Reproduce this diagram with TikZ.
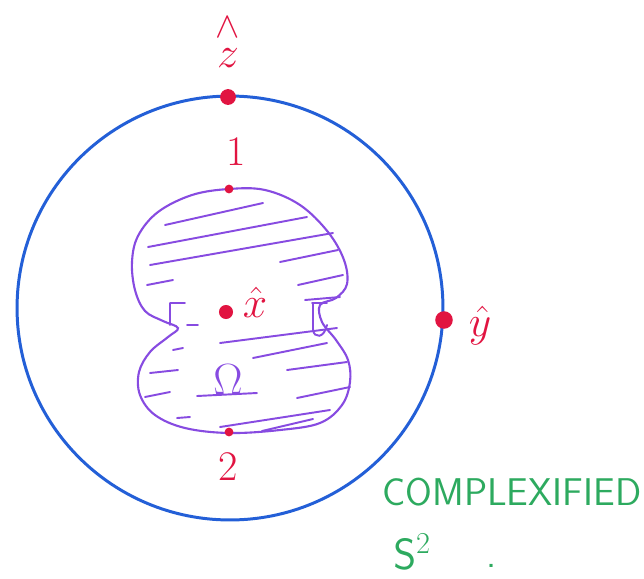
\documentclass[tikz,border=0pt]{standalone}
\usepackage{amsmath}
\usepackage{amssymb}
\usepackage{tikz}
\usepackage{xcolor}

\definecolor{sphblue}{RGB}{35,95,215}
\definecolor{ptred}{RGB}{225,20,65}
\definecolor{blobviolet}{RGB}{135,75,225}
\definecolor{notegreen}{RGB}{45,170,95}

\tikzset{
  dot/.style={circle,fill=ptred,inner sep=0pt,minimum size=#1},
  dot/.default=8pt,
  lbl/.style={text=ptred,inner sep=0pt,font=\fontsize{24}{28}\selectfont},
  hatch/.style={blobviolet,line width=1.1pt,line cap=round},
  note/.style={text=notegreen,inner sep=0pt,font=\sffamily\fontsize{22}{26}\selectfont},
}

\begin{document}
\begin{tikzpicture}[x=0.02cm,y=-0.02cm]
  \useasboundingbox (0,0) rectangle (644,578);
  % the sphere
  \draw[sphblue,line width=1.7pt] (230,308) ellipse [x radius=4.26cm,y radius=4.24cm];
  % the region Omega
  \draw[blobviolet,line width=1.2pt] plot[smooth cycle,tension=0.6] coordinates {
    (229,189) (265,190) (300,205) (328,232) (344,260) (347,284) (336,298)
    (320,305) (322,322) (336,340) (348,360) (350,382) (342,405) (320,423)
    (280,430) (229,433) (185,428) (155,415) (140,395) (139,372) (150,352)
    (168,337) (178,328) (163,321) (145,311) (135,290) (132,262) (138,236)
    (158,212) (192,195)};
  \foreach \xa/\ya/\xb/\yb in {165/225/263/203, 148/247/307/217, 150/265/333/233,
      280/262/338/250, 147/285/173/280, 298/285/343/275, 305/300/340/297,
      187/325/198/325, 220/343/337/328, 253/358/327/343, 173/350/183/348,
      150/373/178/370, 287/370/347/362, 145/397/170/392, 297/398/350/387,
      177/418/190/417, 220/427/330/410, 262/431/313/419}
    \draw[hatch] (\xa,\ya) -- (\xb,\yb);
  % little marks at the waist
  \draw[hatch] (170,303) -- (185,303) (170,303) -- (170,325);
  \draw[hatch] (312,303) -- (327,303) (313,303) -- (313,330) .. controls (314,338) and (324,339) .. (327,325);
  \draw[hatch] (197,396) -- (257,393);
  % points
  \node[dot=9pt] (zpt) at (228,97) {};
  \node[dot=5pt] (top) at (229,189) {};
  \node[dot=8pt] (xpt) at (226,312) {};
  \node[dot=10pt] (ypt) at (444,320) {};
  \node[dot=5pt] (bot) at (229,432) {};
  % labels
  \node[lbl,font=\fontsize{32}{36}\selectfont] (zhat) at (228,40) {$\overset{\wedge}{z}$};
  \node[lbl] (one) at (236,152) {1};
  \node[lbl,font=\fontsize{30}{34}\selectfont] (xhat) at (255,302) {$\hat{x}$};
  \node[lbl,font=\fontsize{34}{38}\selectfont] (yhat) at (480,326) {$\hat{y}$};
  \node[lbl] (two) at (228,467) {2};
  \node[text=blobviolet,inner sep=0pt,font=\fontsize{32}{36}\selectfont] (omega) at (228,380) {$\Omega$};
  \node[note,anchor=west] (cplx) at (382,492) {COMPLEXIFIED};
  \node[note,anchor=west,font=\sffamily\fontsize{26}{30}\selectfont] (sphere) at (393,552) {$\mathsf{S}^2$};
  \node[note] (stop) at (492,566) {.};
\end{tikzpicture}
\end{document}
